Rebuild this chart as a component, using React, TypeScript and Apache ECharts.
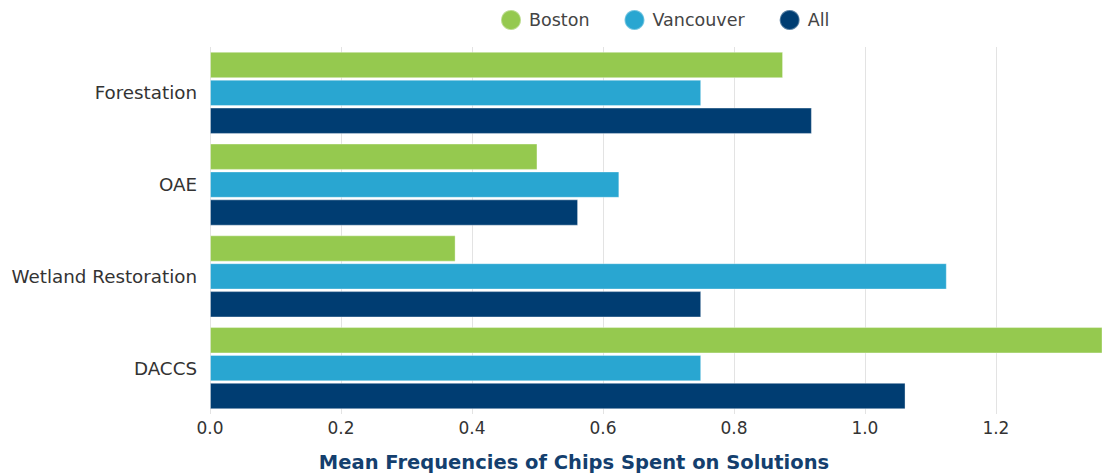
import React, { useEffect, useRef } from "react";
import * as echarts from "echarts";

const categories = ["Forestation", "OAE", "Wetland Restoration", "DACCS"];
const boston = [0.875, 0.5, 0.375, 1.4];
const vancouver = [0.75, 0.625, 1.125, 0.75];
const allCities = [0.919, 0.562, 0.75, 1.062];
const xTicks = [0, 0.2, 0.4, 0.6, 0.8, 1.0, 1.2];

const FONT = "DejaVu Sans";

export default function App() {
  const ref = useRef<HTMLDivElement>(null);
  useEffect(() => {
    if (!ref.current) return;
    const chart = echarts.init(ref.current, undefined, { renderer: "svg" });
    const mk = (name: string, data: number[], color: string) => ({
      name,
      type: "bar",
      data,
      barGap: "6%",
      barCategoryGap: "10.5%",
      itemStyle: { color, borderColor: "rgba(255,255,255,0.35)", borderWidth: 1 },
    });
    chart.setOption({
      animation: false,
      textStyle: { fontFamily: FONT },
      legend: {
        top: 9,
        left: 500,
        icon: "circle",
        itemWidth: 20,
        itemHeight: 20,
        itemGap: 34,
        textStyle: { fontSize: 17.5, color: "#444", fontFamily: FONT, padding: [0, 0, 0, 3] },
        data: ["Boston", "Vancouver", "All"],
        padding: 0,
      },
      grid: { left: 210, right: 0, top: 47, bottom: 59, containLabel: false },
      xAxis: {
        type: "value",
        min: 0,
        max: 1.362,
        interval: 0.2,
        axisLine: { show: false },
        axisTick: { show: false },
        splitLine: { show: true, lineStyle: { color: "#e3e3e3", width: 1 } },
        axisLabel: {
          showMaxLabel: false,
          fontSize: 17,
          color: "#333",
          margin: 5,
          formatter: (v: number) => (xTicks.some((t) => Math.abs(t - v) < 1e-6) ? v.toFixed(1) : ""),
        },
      },
      yAxis: {
        type: "category",
        data: categories,
        inverse: true,
        axisLine: { show: false },
        axisTick: { show: false },
        axisLabel: { fontSize: 18.3, color: "#333", margin: 13 },
      },
      graphic: [
        {
          type: "text",
          x: 574,
          y: 462,
          style: {
            text: "Mean Frequencies of Chips Spent on Solutions",
            fontSize: 19.5,
            fontWeight: "bold",
            fill: "#143f6e",
            fontFamily: FONT,
            textAlign: "center",
            textVerticalAlign: "middle",
          },
        },
      ],
      series: [
        mk("Boston", boston, "#95c94f"),
        mk("Vancouver", vancouver, "#29a6d1"),
        mk("All", allCities, "#003d72"),
      ],
    });
    return () => chart.dispose();
  }, []);
  return (
    <div
      ref={ref}
      style={{ position: "absolute", left: 0, top: 0, width: 1102, height: 473 }}
    />
  );
}
